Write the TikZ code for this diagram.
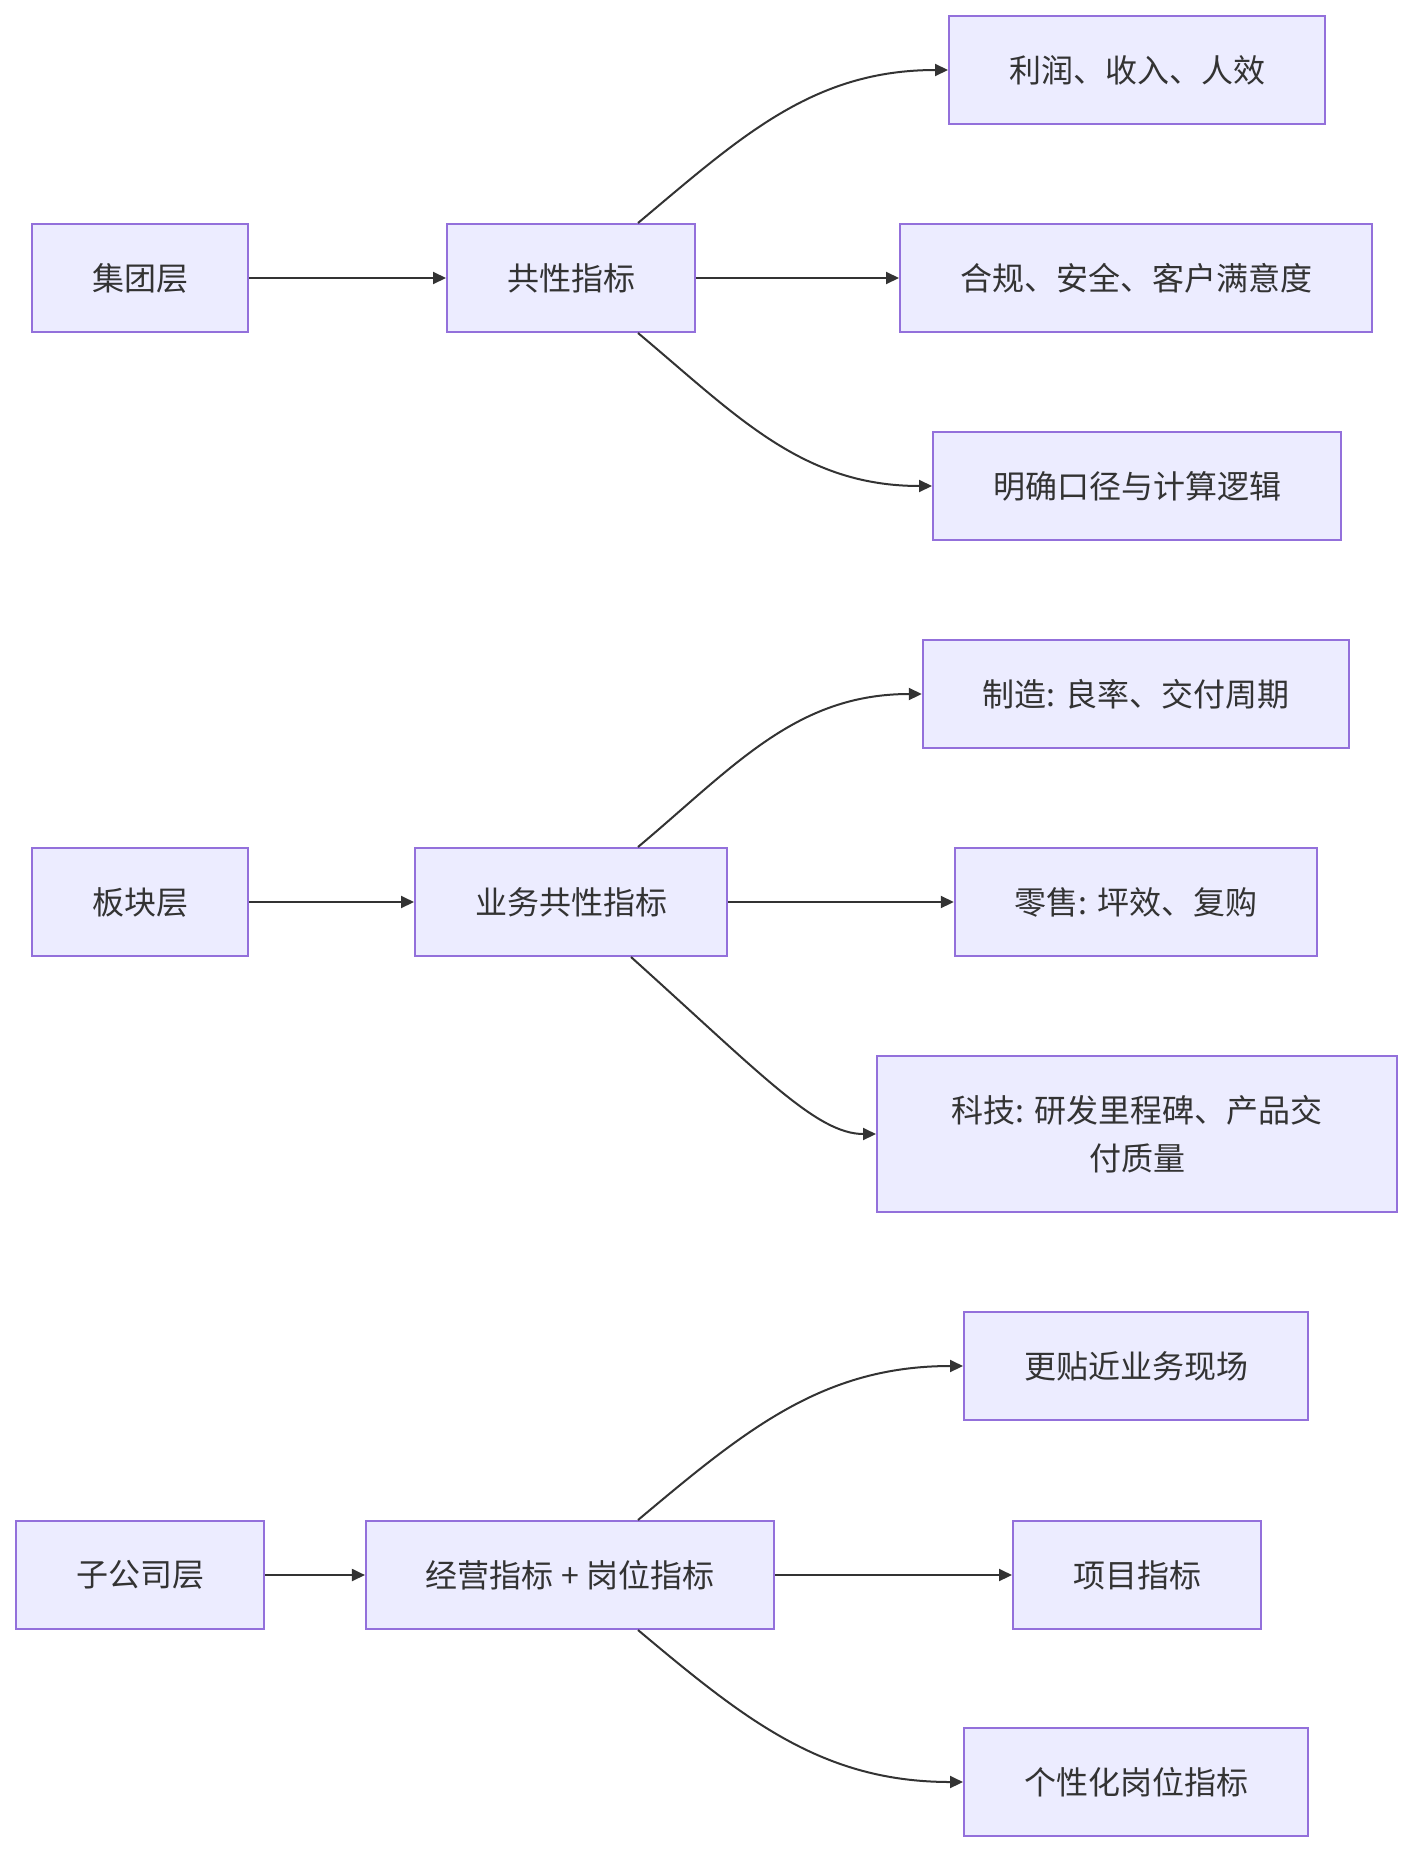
\documentclass[tikz,border=0pt]{standalone}
\usepackage{fontspec}
\setmainfont{Noto Sans CJK SC}
\usetikzlibrary{arrows.meta}
\definecolor{boxfill}{HTML}{ECECFF}
\definecolor{boxline}{HTML}{9370DB}
\definecolor{ink}{HTML}{333333}

\begin{document}
\begin{tikzpicture}[x=1pt, y=1pt, font=\fontsize{32}{48}\selectfont,
    >={Triangle[length=13pt,width=12pt]},
    box/.style={draw=boxline, line width=2pt, fill=boxfill, text=ink,
                minimum height=108pt, inner xsep=60pt, inner ysep=30pt, align=center},
    lnk/.style={->, draw=ink, line width=2pt}]
    \useasboundingbox (0,0) rectangle (1412,-1852);

    % group level
    \node[box] (grp) at (140,-278) {集团层};
    \node[box] (grpk) at (571,-278) {共性指标};
    \node[box] (grpa) at (1137,-70) {利润、收入、人效};
    \node[box] (grpb) at (1136,-278) {合规、安全、客户满意度};
    \node[box] (grpc) at (1137,-486) {明确口径与计算逻辑};
    \draw[lnk] (grp) -- (grpk);
    \draw[lnk] ([xshift=67pt]grpk.north) to[out=40, in=180] (grpa.west);
    \draw[lnk] (grpk) -- (grpb);
    \draw[lnk] ([xshift=67pt]grpk.south) to[out=-40, in=180] (grpc.west);

    % segment level
    \node[box] (seg) at (140,-902) {板块层};
    \node[box] (segk) at (571,-902) {业务共性指标};
    \node[box] (sega) at (1136,-694) {制造: 良率、交付周期};
    \node[box] (segb) at (1136,-902) {零售: 坪效、复购};
    \node[box, minimum width=520pt, minimum height=156pt] (segc) at (1137,-1134)
      {科技: 研发里程碑、产品交\\付质量};
    \draw[lnk] (seg) -- (segk);
    \draw[lnk] ([xshift=67pt]segk.north) to[out=40, in=180] (sega.west);
    \draw[lnk] (segk) -- (segb);
    \draw[lnk] ([xshift=60pt]segk.south) to[out=-42, in=180, out looseness=1.5, in looseness=0.5] (segc.west);

    % subsidiary level
    \node[box] (sub) at (140,-1575) {子公司层};
    \node[box] (subk) at (570,-1575) {经营指标 + 岗位指标};
    \node[box] (suba) at (1136,-1366) {更贴近业务现场};
    \node[box] (subb) at (1137,-1575) {项目指标};
    \node[box] (subc) at (1136,-1782) {个性化岗位指标};
    \draw[lnk] (sub) -- (subk);
    \draw[lnk] ([xshift=68pt]subk.north) to[out=40, in=180] (suba.west);
    \draw[lnk] (subk) -- (subb);
    \draw[lnk] ([xshift=68pt]subk.south) to[out=-40, in=180] (subc.west);
\end{tikzpicture}
\end{document}
